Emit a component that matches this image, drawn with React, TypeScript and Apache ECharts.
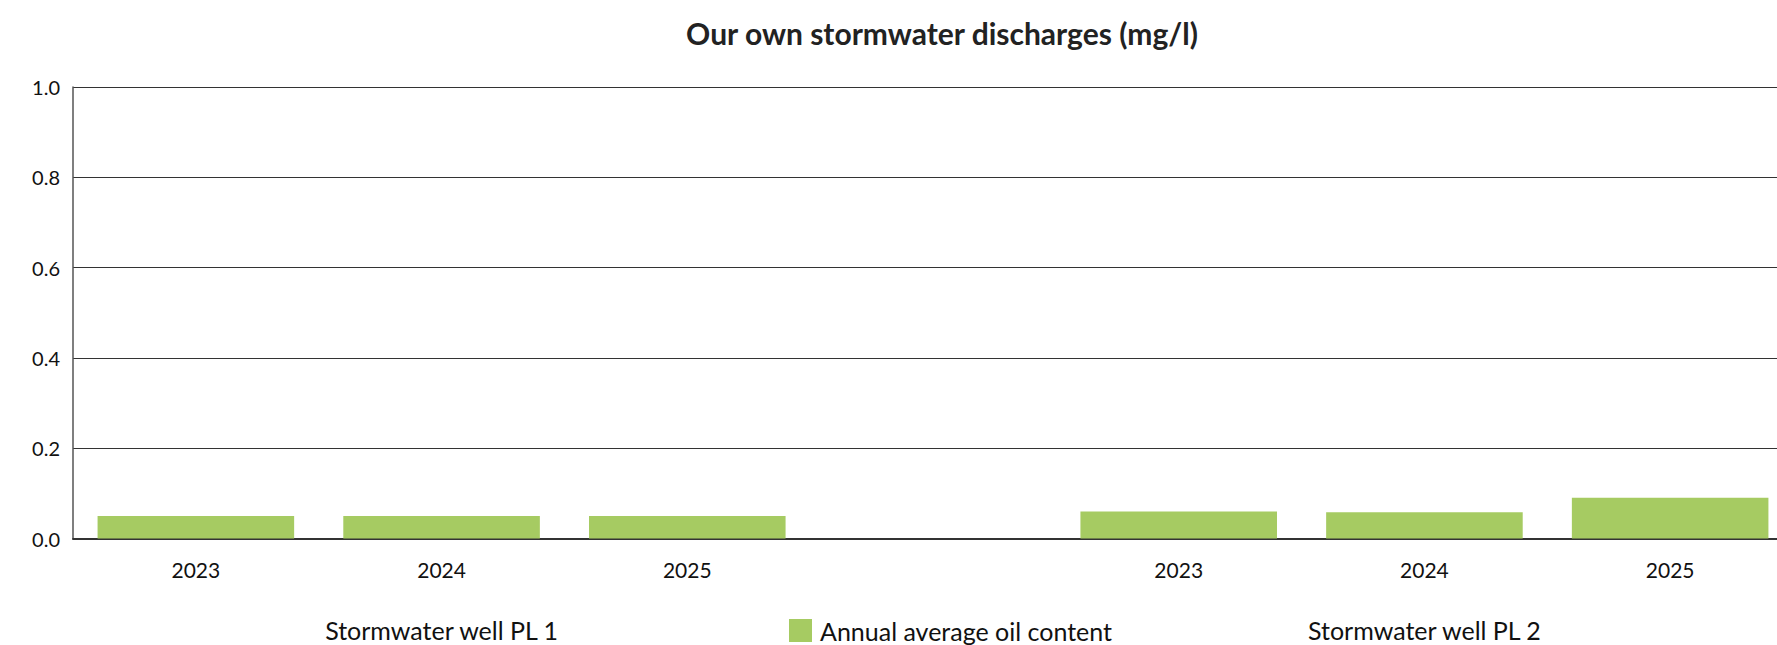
import React, { useEffect, useRef } from "react";
import * as echarts from "echarts";

const categories = ["2023", "2024", "2025", "", "2023", "2024", "2025"];
const groupLabels = ["", "Stormwater well PL 1", "", "", "", "Stormwater well PL 2", ""];
const oilContent = [0.05, 0.05, 0.05, null, 0.06, 0.058, 0.09];
const seriesName = "Annual average oil content";
const titleText = "Our own stormwater discharges (mg/l)";

const W = 1884;
const H = 645;
const FONT = "Lato, 'Noto Sans', sans-serif";

export default function App() {
  const ref = useRef<HTMLDivElement>(null);
  useEffect(() => {
    if (!ref.current) return;
    const chart = echarts.init(ref.current, undefined, { renderer: "svg" });
    chart.setOption({
      animation: false,
      textStyle: { fontFamily: FONT },
      title: {
        text: titleText,
        left: "center",
        top: 13,
        textStyle: { fontFamily: FONT, fontSize: 30, fontWeight: "bold", color: "#222" },
      },
      legend: {
        left: 784,
        top: 613,
        itemWidth: 23,
        itemHeight: 23,
        icon: "rect",
        textStyle: { fontFamily: FONT, fontSize: 25, color: "#111", padding: [0, 0, 0, 3] },
        data: [seriesName],
      },
      grid: { left: 73, right: W - 1793, top: 87, bottom: H - 538.5, containLabel: false },
      xAxis: [
        {
          type: "category",
          data: categories,
          position: "bottom",
          axisLine: { show: true, lineStyle: { color: "#333", width: 2 } },
          axisTick: { show: false },
          axisLabel: { fontFamily: FONT, fontSize: 21, color: "#111", margin: 20 },
        },
        {
          type: "category",
          data: groupLabels,
          position: "bottom",
          offset: 79,
          axisLine: { show: false },
          axisTick: { show: false },
          axisLabel: { fontFamily: FONT, fontSize: 25, color: "#111", margin: 0, interval: 0 },
        },
      ],
      yAxis: {
        type: "value",
        min: 0,
        max: 1,
        interval: 0.2,
        axisLine: { show: true, lineStyle: { color: "#555", width: 1.5 } },
        axisTick: { show: false },
        splitLine: { show: true, lineStyle: { color: "#333", width: 1 } },
        axisLabel: {
          fontFamily: FONT,
          fontSize: 20,
          color: "#111",
          margin: 13,
          formatter: (v: number) => v.toFixed(1),
        },
      },
      series: [
        {
          name: seriesName,
          type: "bar",
          data: oilContent,
          barWidth: "80%",
          itemStyle: { color: "#a6cb62" },
        },
      ],
    });
    return () => chart.dispose();
  }, []);
  return (
    <div style={{ position: "fixed", left: 0, top: 0, width: 1777, height: H, overflow: "hidden", background: "#fff" }}>
      <div ref={ref} style={{ width: W, height: H }} />
    </div>
  );
}
